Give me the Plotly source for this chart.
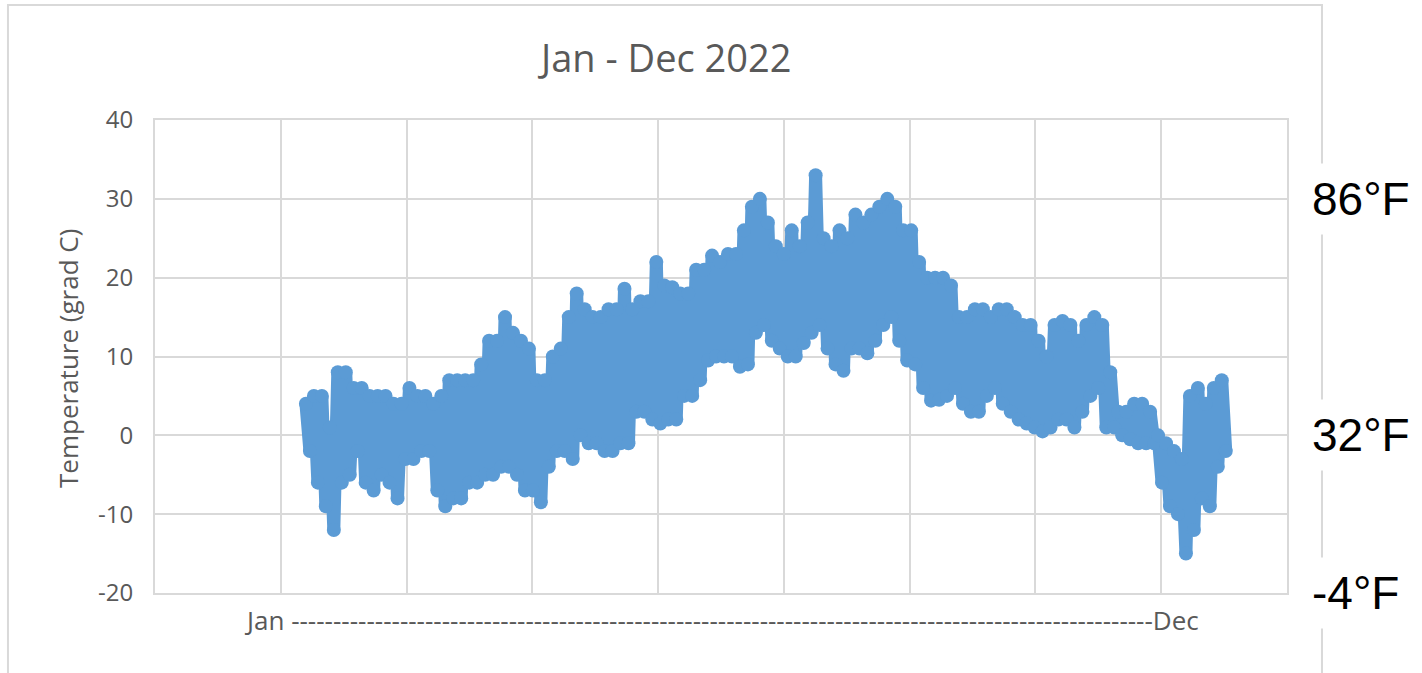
import numpy as np
import plotly.graph_objects as go

# Temperature record for 2022: upper and lower envelope of the hourly readings (grad C),
# one pair per step along the year, Jan -> Dec.
temp_high = [
    4, 5, 5, 1, 8, 8, 6, 6, 5, 5,
    5, 4, 4, 6, 5, 5, 4, 5, 7, 7,
    7, 7, 9, 12, 12, 15, 13, 12, 11, 7,
    7, 10, 11, 15, 18, 16, 15, 15, 16, 16,
    18.6, 16, 17, 17, 22, 19, 18.8, 18, 18, 21,
    21, 22.8, 22, 23, 23, 26, 29, 30, 27, 24,
    23, 26, 24, 27, 33, 25, 24, 26, 25, 28,
    27, 28, 29, 30, 29, 26, 26, 22, 20, 20,
    20, 19, 15, 15, 16, 16, 15, 16, 16, 15,
    14, 14, 12, 10, 14, 14.5, 14, 12, 14, 15,
    14, 8, 3, 3, 4, 4, 3, 0, -1, -2,
    -3, 5, 6, 4, 6, 7,
]
temp_low = [
    -2, -6, -9, -12, -6, -5, -2, -6, -7, -5,
    -6, -8, -3, -3, -2, -2, -7, -9, -8, -8,
    -6, -6, -5, -5, -4, -4, -5, -7, -7, -8.5,
    -4, -2, -2, -3, 0, -1, -1, -2, -2, -1,
    -1, 3, 3, 2, 1.5, 2, 2, 5, 5, 7,
    9.5, 10, 10, 10, 8.7, 9, 13, 14, 12, 11,
    10, 10, 11.7, 13, 14, 11, 9, 8.2, 11, 11,
    10.4, 12, 14, 15, 12, 9.5, 9, 6, 4.4, 4.5,
    5, 6, 4, 3, 3, 5, 6, 4, 3, 2,
    1.5, 1, 0.5, 1, 2, 2, 1, 3, 5, 6,
    1, 1, 0, -0.5, -1, -1, -1, -6, -9, -10,
    -15, -12, -8, -9, -4, -2,
]

y_ticks = [-20, -10, 0, 10, 20, 30, 40]
y_tick_text = ["-20", "-10", "0", "10", "20", "30", "40"]
f_labels = ["86°F", "32°F", "-4°F"]
f_label_levels = [30, 0, -20]
title_text = "Jan - Dec 2022"
y_title = "Temperature (grad C)"
x_label = "Jan " + "-" * 103 + "Dec"

# hourly swings: alternate between the high and low readings
temps = [v for pair in zip(temp_high, temp_low) for v in pair]

# the record occupies this stretch of the (gridline-unit) category axis
X_START, X_END = 1.2, 8.513
x = np.linspace(X_START, X_END, len(temps))
x_high, x_low = x[0::2], x[1::2]

GRID = "#d9d9d9"
TEXT = "#595959"
BLUE = "#5b9bd5"

fig = go.Figure()
# solid body of the daily range
fig.add_trace(go.Scatter(
    x=list(x_high) + list(x_low[::-1]), y=temp_high + temp_low[::-1],
    mode="lines", fill="toself", fillcolor=BLUE, line=dict(color=BLUE, width=1),
    hoverinfo="skip", showlegend=False,
))
# the hourly trace itself
fig.add_trace(go.Scatter(
    x=x, y=temps, mode="lines+markers",
    line=dict(color=BLUE, width=13),
    marker=dict(color=BLUE, size=14, line=dict(width=0)),
    hoverinfo="skip", showlegend=False,
))

fig.update_layout(
    width=1422, height=673, autosize=False,
    margin=dict(l=155, r=135, t=120, b=80),
    paper_bgcolor="white", plot_bgcolor="white",
    font=dict(family="Open Sans", color=TEXT),
    xaxis=dict(range=[0, 9], dtick=1, tick0=0, showticklabels=False,
               showgrid=True, gridcolor=GRID, gridwidth=2, zeroline=False,
               showline=True, linecolor=GRID, linewidth=2, mirror=True, fixedrange=True),
    yaxis=dict(range=[-20, 40], tickvals=y_ticks, ticktext=y_tick_text,
               showgrid=True, gridcolor=GRID, gridwidth=2,
               zeroline=False, showline=True, linecolor=GRID, linewidth=2, mirror=True,
               tickfont=dict(size=24, color=TEXT, family="Open Sans"),
               ticklabelstandoff=15, fixedrange=True),
)

# chart-area frame
fig.add_shape(type="rect", xref="paper", yref="paper",
              x0=-0.1299, x1=1.0309, y0=-0.2, y1=1.2431,
              line=dict(color=GRID, width=2), fillcolor="rgba(0,0,0,0)", layer="below")

annotations = [
    dict(text=title_text, xref="paper", yref="paper", x=0.4505, y=1.1332,
         xanchor="center", yanchor="middle", showarrow=False,
         font=dict(size=38, color=TEXT, family="Open Sans")),
    dict(text=y_title, xref="paper", yref="paper", x=-0.0769, y=0.4968,
         xanchor="center", yanchor="middle", textangle=-90, showarrow=False,
         font=dict(size=26, color=TEXT, family="Open Sans")),
    dict(text=x_label, xref="paper", yref="paper", x=0.5, y=-0.057,
         xanchor="center", yanchor="middle", showarrow=False,
         font=dict(size=26, color=TEXT, family="Open Sans")),
]
for lab, lvl in zip(f_labels, f_label_levels):
    annotations.append(dict(
        text=lab, xref="paper", yref="y", x=1.0133, y=lvl,
        xanchor="left", yanchor="middle", showarrow=False,
        bgcolor="white", borderpad=9,
        font=dict(size=46, color="black", family="Liberation Sans"),
    ))
fig.update_layout(annotations=annotations)

fig.write_html("out.html")
